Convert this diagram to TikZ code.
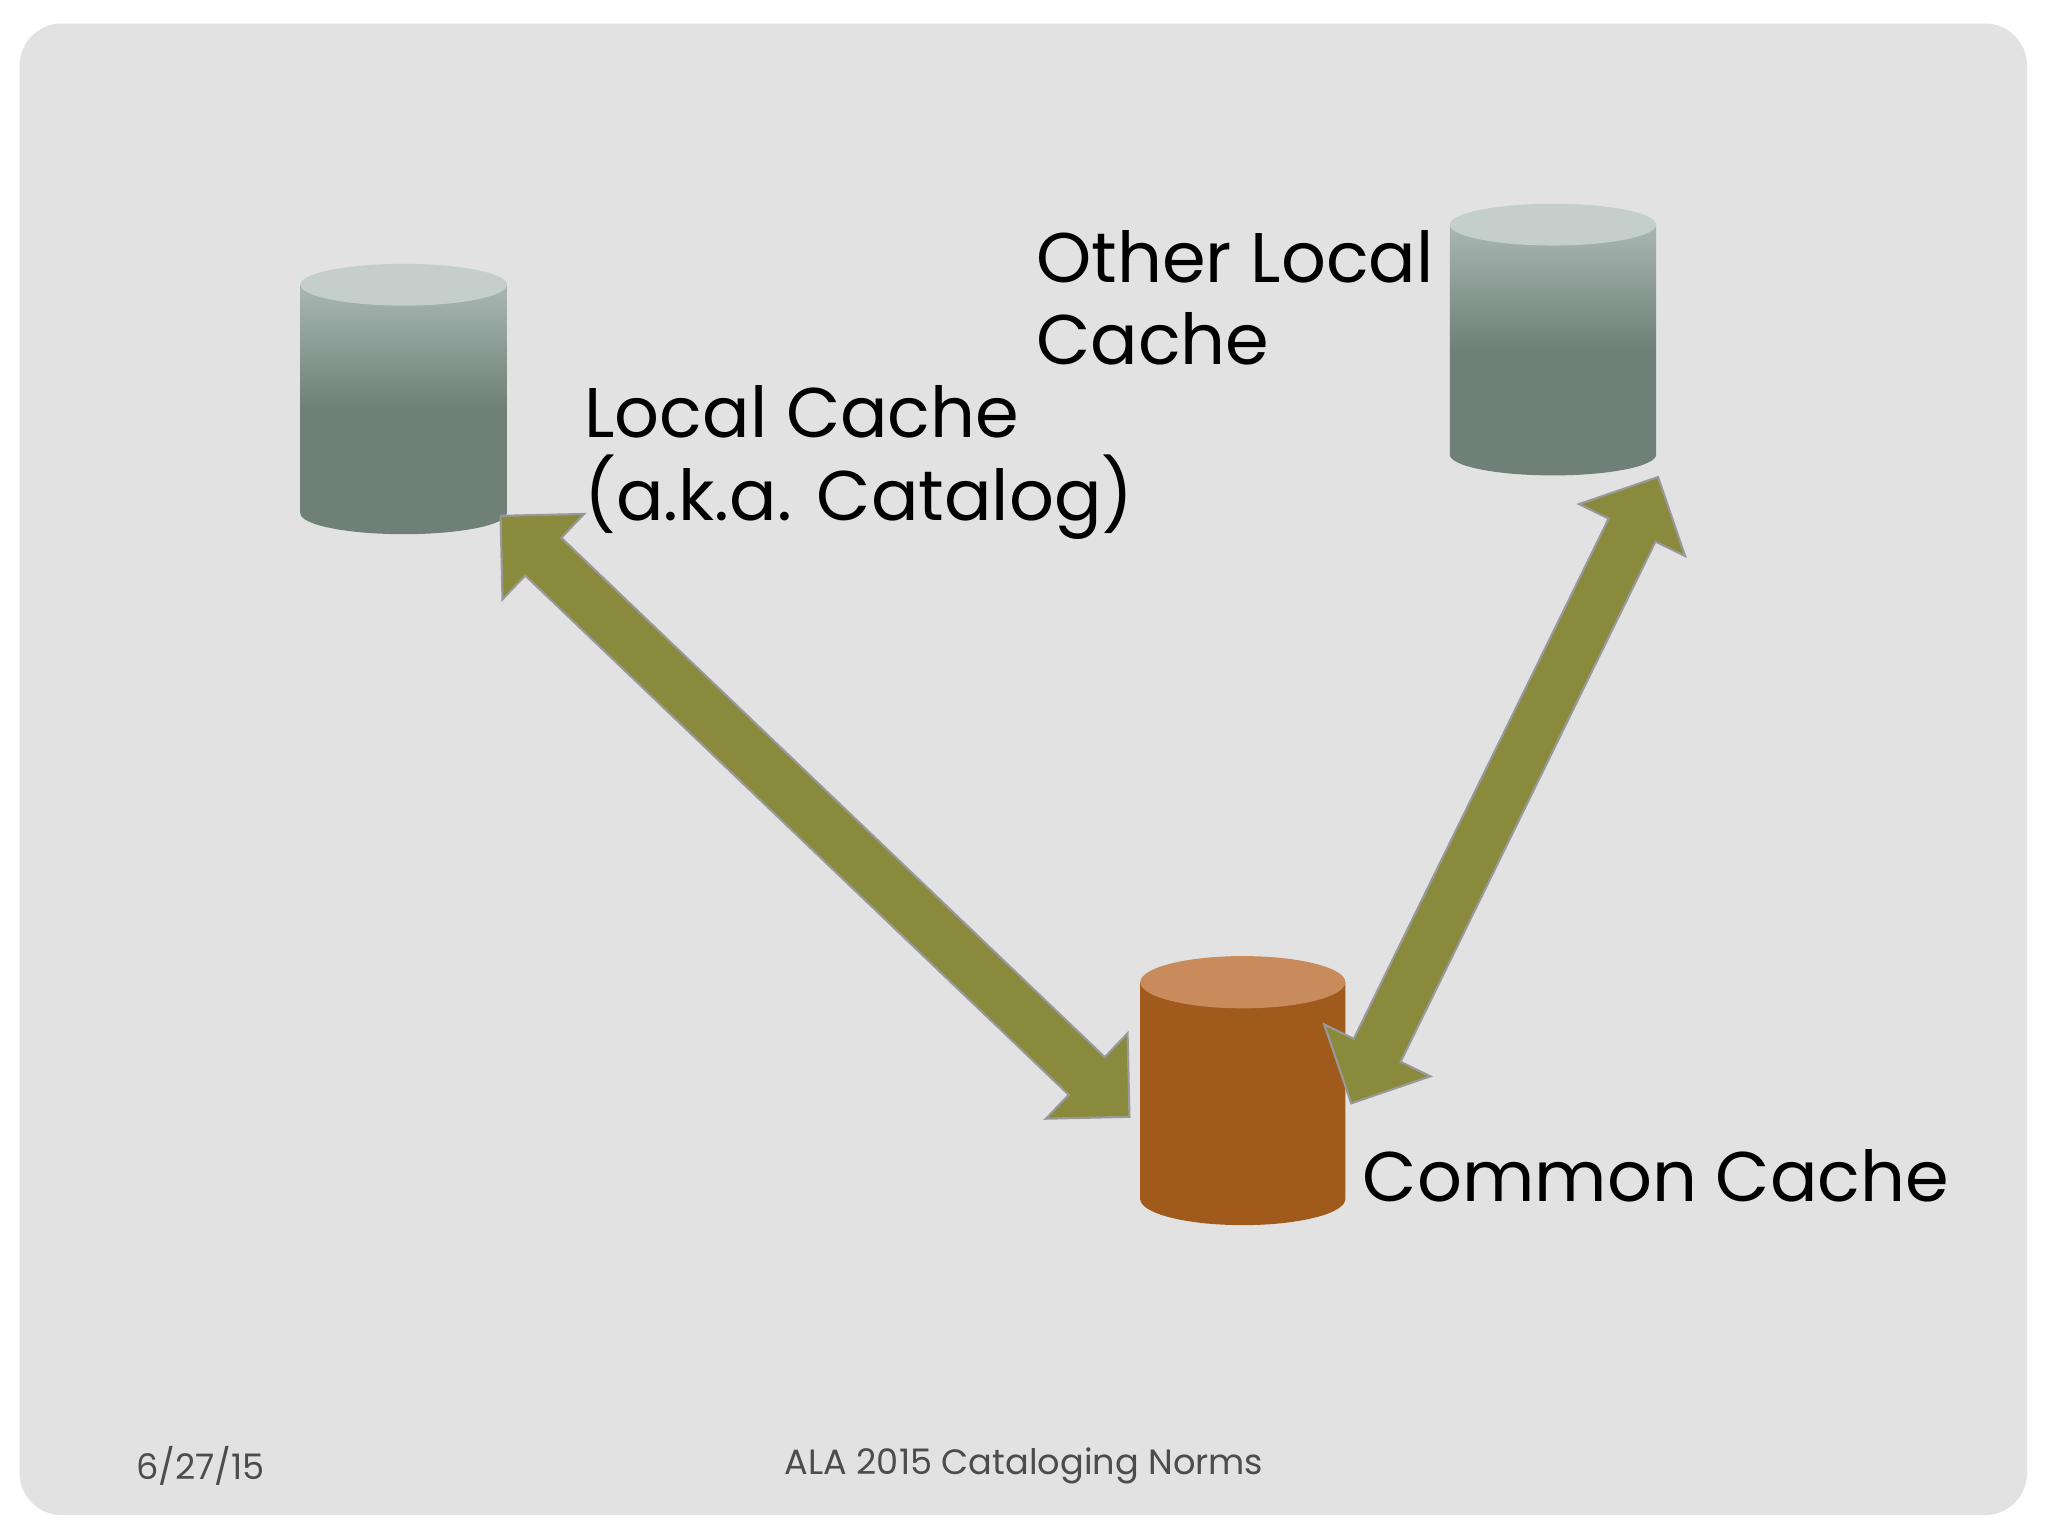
\documentclass[tikz,border=0pt]{standalone}
\usepackage{fontspec}
\setmainfont{Poppins}
\usetikzlibrary{shapes.arrows}
\definecolor{bg}{HTML}{E2E2E2}
\definecolor{olive}{HTML}{8A8A3C}
\definecolor{cyltop}{HTML}{C4CFCB}
\definecolor{cyllo}{HTML}{6E8078}
\definecolor{cylhi}{HTML}{A9B7B2}
\definecolor{orng}{HTML}{A05A1C}
\definecolor{orngtop}{HTML}{C98A5C}
\tikzset{
 arr/.style={double arrow, draw=gray!80, fill=olive, line width=0.6pt, inner xsep=0pt, inner ysep=0.25cm,
   double arrow head extend=0.33cm},
 lbl/.style={anchor=west, align=left, font=\fontsize{20}{23.5}\selectfont, inner sep=0pt},
 foot/.style={font=\fontsize{10}{12}\selectfont, text=black!70}
}
\newcommand{\mycyl}[6]{% x1 x2 ytop ybot ry, kind
  \shade[top color=#6hi, bottom color=#6lo, middle color=#6mid]
   (#1,#3) -- (#1,#4) arc[start angle=180,end angle=0,x radius={(#2-#1)/2},y radius=#5] -- (#2,#3) -- cycle;
  \fill[#6top] ({(#1+#2)/2},#3) ellipse[x radius={(#2-#1)/2}, y radius=#5];
}
\colorlet{ghi}{cylhi}\colorlet{gmid}{cyllo}\colorlet{glo}{cyllo}\colorlet{gtop}{cyltop}
\colorlet{ohi}{orng}\colorlet{omid}{orng}\colorlet{olo}{orng}\colorlet{otop}{orngtop}
\begin{document}
\begin{tikzpicture}[x=0.013061cm,y=-0.013061cm]
\useasboundingbox (0,0) rectangle (1568,1176);
\fill[white] (0,0) rectangle (1568,1176);
\fill[bg, rounded corners=12pt] (15,18) rectangle (1552,1160);
% cylinders
\mycyl{230}{388}{218}{393}{16}{g}
\mycyl{1110}{1268}{172}{348}{16}{g}
\mycyl{873}{1030}{752}{918}{20}{o}
% arrows
\node[arr, minimum height=666*0.013061cm, rotate=-43.7] (a1) at (624,625) {};
\node[arr, minimum height=534*0.013061cm, rotate=63.9] (a2) at (1152,605) {};
% labels
\node[lbl] (t1) at (447,354) {Local Cache\\(a.k.a. Catalog)};
\node[lbl] (t2) at (793,228) {Other Local\\Cache};
\node[lbl] (t3) at (1043,900) {Common Cache};
\node[foot, anchor=west] (f1) at (95,1122) {6/27/15};
\node[foot] (f2) at (784,1122) {ALA 2015 Cataloging Norms};
\end{tikzpicture}
\end{document}
